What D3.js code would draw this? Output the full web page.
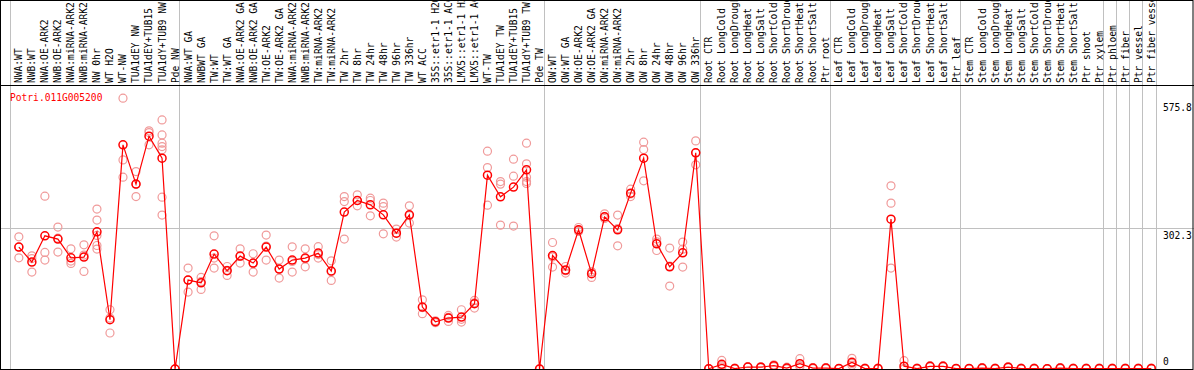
<!DOCTYPE html>
<html>
<head>
<meta charset="utf-8">
<script src="https://cdn.jsdelivr.net/npm/d3@7/dist/d3.min.js"></script>
<style>
  body { margin: 0; background: #fff; }
  svg { display: block; }
</style>
</head>
<body>
<div class="chart"></div>
<script>
const geneName = 'Potri.011G005200'

const samples = [
    'NWA:WT', 'NWB:WT', 'NWA:OE-ARK2', 'NWB:OE-ARK2', 'NWA:miRNA-ARK2', 'NWB:miRNA-ARK2', 'NW 0hr', 'WT H2O', 'WT-NW',
    'TUA1dEY NW', 'TUA1dEY+TUB15', 'TUA1dY+TUB9 NW', 'Pde NW',
    'NWA:WT GA', 'NWBWT GA', 'TW:WT', 'TW:WT GA', 'NWA:OE-ARK2 GA', 'NWB:OE-ARK2 GA', 'TW:OE-ARK2', 'TW:OE-ARK2 GA',
    'NWA:miRNA-ARK2', 'NWB:miRNA-ARK2', 'TW:miRNA-ARK2', 'TW:miRNA-ARK2', 'TW 2hr', 'TW 8hr', 'TW 24hr', 'TW 48hr',
    'TW 96hr', 'TW 336hr', 'WT ACC', '35S::etr1-1 H2O', '35S::etr1-1 ACC', 'LMX5::etr1-1 H2O', 'LMX5::etr1-1 ACC',
    'WT-TW', 'TUA1dEY TW', 'TUA1dEY+TUB15', 'TUA1dY+TUB9 TW', 'Pde TW',
    'OW:WT', 'OW:WT GA', 'OW:OE-ARK2', 'OW:OE-ARK2 GA', 'OW:miRNA-ARK2', 'OW:miRNA-ARK2', 'OW 2hr', 'OW 8hr',
    'OW 24hr', 'OW 48hr', 'OW 96hr', 'OW 336hr',
    'Root CTR', 'Root LongCold', 'Root LongDrought', 'Root LongHeat', 'Root LongSalt', 'Root ShortCold',
    'Root ShortDrought', 'Root ShortHeat', 'Root ShortSalt', 'Ptr root',
    'Leaf CTR', 'Leaf LongCold', 'Leaf LongDrought', 'Leaf LongHeat', 'Leaf LongSalt', 'Leaf ShortCold',
    'Leaf ShortDrought', 'Leaf ShortHeat', 'Leaf ShortSalt', 'Ptr leaf',
    'Stem CTR', 'Stem LongCold', 'Stem LongDrought', 'Stem LongHeat', 'Stem LongSalt', 'Stem ShortCold',
    'Stem ShortDrought', 'Stem ShortHeat', 'Stem ShortSalt', 'Ptr shoot', 'Ptr xylem',
    'Ptr phloem', 'Ptr fiber', 'Ptr vessel', 'Ptr fiber vessel'
]

// index where each experiment group starts (last entry closes the final group)
const groupStarts = [0, 13, 41, 53, 63, 73, 84, 85, 86, 87, 88]

const means = [
    260.5, 228.4, 284.6, 277.5, 237.6, 239.1, 293.1, 105.2, 478.9, 395, 497.4, 450.5, 0,
    190, 184.2, 245.5, 209.9, 241.2, 226.3, 260.5, 213.5, 232.7, 237, 247.6, 209.4, 335.2, 360, 350.8, 329.4,
    290.3, 329.4, 132.4, 101, 108.9, 111, 139.4, 414.2, 367.8, 388.6, 425.5, 0,
    242.5, 211.4, 297.4, 203.5, 325.1, 297.4, 375.7, 450.5, 267.5, 218.4, 248.3, 461.8,
    0.5, 9.9, 1, 4.3, 4, 7, 2, 11.4, 2, 2,
    1, 14.2, 1, 1, 320.2, 6, 1, 5.7, 5.7, 1,
    1, 2, 1, 4, 1, 1, 0.5, 2, 1, 1, 1,
    1, 1, 1, 1
]

const replicates = [
    [282.5, 260.5, 237.6], [241.9, 236, 207.1], [369.3, 249, 232.7], [303.2, 279.5, 249.8],
    [256.8, 230.5, 225.5], [265.4, 243.5, 208.4], [341.6, 318.1, 285.3, 263.9, 256.2], [126.6, 108.9, 76.9],
    [578.6, 446.8, 409.9], [421.9, 394.6, 368.5], [508.8, 505.2, 478.9],
    [532.2, 500.2, 482.5, 475.2, 468.2, 367.2, 328.8], [0, 0, 0],
    [215.6, 190, 164.4], [195.6, 187, 170], [284.6, 237, 215.6], [219, 210.8, 199.9],
    [256.8, 240.6, 226.3], [246.2, 225.6, 207.1], [286.1, 262.7, 232.7], [232.7, 213.5, 194.3],
    [261.1, 229.9, 207.1], [256.8, 235.8, 218.4], [261.3, 244.5, 237], [231.2, 207.8, 189.2],
    [368.5, 357.8, 277.5], [372.1, 360, 348.6], [365, 360, 327.3], [354.4, 347.1, 288.9],
    [298.9, 290.3, 281.8], [348.6, 327.9, 311.7], [147.9, 131.2, 118.1], [103, 101, 99],
    [114.5, 110.5, 101.7], [126.6, 106.1, 100.3], [146.5, 141.5, 130.2], [465.4, 430.4, 350.1],
    [400.5, 395, 307.4], [448.3, 412, 305.3], [482.5, 438.3, 409.9, 400.5, 396.4], [0, 0, 0],
    [270.3, 239.4, 217.8], [219, 210, 205], [302.3, 296, 293.8], [207.8, 207.1, 195.6],
    [331.6, 325, 321.6], [328.8, 300.2, 263.2], [384.3, 374, 368.5], [484.6, 468.8, 402],
    [277.5, 271.8, 253.2], [258.3, 219.7, 177.2], [271.1, 256, 217.8], [487.4, 461.8, 436.2],
    [1, 0.5, 0], [18.4, 7, 4.3], [2, 1, 0], [5, 4, 4], [5, 4, 3], [9, 7, 5], [4, 2, 0], [22, 7, 5], [3, 2, 1], [3, 2, 1],
    [1, 1, 1], [22.7, 12, 8], [2, 1, 0], [2, 1, 0], [391.3, 354.4, 215.6], [17.8, 0, 0], [2, 1, 0], [7, 5, 5], [7, 5, 5], [1, 1, 1],
    [1, 1, 1], [3, 2, 1], [2, 1, 0], [5, 4, 3], [2, 1, 0], [2, 1, 0], [1, 0.5, 0], [3, 2, 1], [2, 1, 0], [2, 1, 0], [2, 1, 0],
    [2, 1, 0], [2, 1, 0], [2, 1, 0], [2, 1, 0]
]

const axisTicks = [0, 302.3, 575.8]

class ExpressionPlot {

    constructor(options) {
        this.width = options.width
        this.height = options.height
        this.labelBase = 83
        this.headerLine = 85
        this.plotTop = 99.5
        this.plotBottom = 369
        this.font = '"DejaVu Sans Mono", monospace'
        this.fontSize = '9.6px'
        this.lineColour = '#ff0000'
        this.repColour = '#f09a9a'
        this.gridColour = '#c0c0c0'
    }

    render() {
        this.svg = this.createCanvas()
        this.prepareScales()
        this.drawGrid()
        this.drawLabels()
        this.drawReplicates()
        this.drawMeans()
        this.drawAxis()
        this.drawFrame()
    }

    createCanvas() {
        return d3.select('.chart')
            .append('svg')
            .attr('width', this.width)
            .attr('height', this.height)
    }

    prepareScales() {
        this.xScale = d3.scaleLinear()
            .domain([0, samples.length])
            .range([10, 1155.5])
        this.yScale = d3.scaleLinear()
            .domain([0, d3.max(axisTicks)])
            .range([this.plotBottom, this.plotTop])
        // points sit a bit right of the band start
        this.px = i => this.xScale(i + 0.68)
    }

    drawGrid() {
        this.svg.append('g')
            .selectAll('line')
            .data(groupStarts)
            .enter().append('line')
            .attr('x1', d => Math.round(this.xScale(d)) + 0.5)
            .attr('x2', d => Math.round(this.xScale(d)) + 0.5)
            .attr('y1', 0)
            .attr('y2', this.height)
            .style('stroke', this.gridColour)

        let midY = Math.round(this.yScale(axisTicks[1])) + 0.5
        this.svg.append('line')
            .attr('x1', 0)
            .attr('x2', this.width)
            .attr('y1', midY)
            .attr('y2', midY)
            .style('stroke', this.gridColour)
    }

    drawLabels() {
        this.svg.append('g')
            .selectAll('text')
            .data(samples)
            .enter().append('text')
            .attr('transform', (d, i) => `translate(${this.px(i)}, ${this.labelBase}) rotate(-90)`)
            .attr('dy', '0.36em')
            .style('font-family', this.font)
            .style('font-size', this.fontSize)
            .style('fill', '#000')
            .text(d => d)
    }

    drawReplicates() {
        let reps = []
        replicates.forEach((vals, i) => vals.forEach(v => reps.push({ i: i, v: v })))
        this.svg.append('g')
            .selectAll('circle')
            .data(reps)
            .enter().append('circle')
            .attr('cx', d => this.px(d.i))
            .attr('cy', d => this.yScale(d.v))
            .attr('r', 4)
            .style('fill', 'none')
            .style('stroke', this.repColour)
            .style('stroke-width', 1.2)
    }

    drawMeans() {
        let line = d3.line()
            .x((d, i) => this.px(i))
            .y(d => this.yScale(d))

        this.svg.append('path')
            .datum(means)
            .attr('d', line)
            .style('fill', 'none')
            .style('stroke', this.lineColour)
            .style('stroke-width', 1.2)

        this.svg.append('g')
            .selectAll('circle')
            .data(means)
            .enter().append('circle')
            .attr('cx', (d, i) => this.px(i))
            .attr('cy', d => this.yScale(d))
            .attr('r', 4)
            .style('fill', 'none')
            .style('stroke', this.lineColour)
            .style('stroke-width', 1.5)

        this.svg.append('text')
            .attr('x', 10)
            .attr('y', 101)
            .style('font-family', this.font)
            .style('font-size', this.fontSize)
            .style('fill', this.lineColour)
            .text(geneName)
    }

    drawAxis() {
        // labels sit just under their value, except the zero which sits above the floor
        this.svg.append('g')
            .selectAll('text')
            .data(axisTicks)
            .enter().append('text')
            .attr('x', 1163)
            .attr('y', d => d === 0 ? this.yScale(d) - 4 : this.yScale(d) + 11)
            .style('font-family', this.font)
            .style('font-size', this.fontSize)
            .style('fill', '#000')
            .text(d => d)
    }

    drawFrame() {
        this.svg.append('rect')
            .attr('x', 0.5)
            .attr('y', 0.5)
            .attr('width', this.width - 1.5)
            .attr('height', this.height - 1)
            .style('fill', 'none')
            .style('stroke', '#000')
        this.svg.append('line')
            .attr('x1', 0)
            .attr('x2', this.width)
            .attr('y1', this.headerLine + 0.5)
            .attr('y2', this.headerLine + 0.5)
            .style('stroke', '#000')
    }
}

new ExpressionPlot({ width: 1194, height: 370 }).render()
</script>
</body>
</html>
